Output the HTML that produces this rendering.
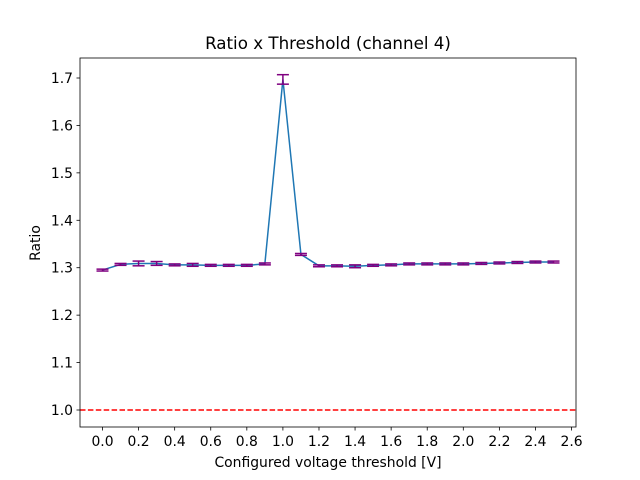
<!DOCTYPE html>
<html><head><meta charset="utf-8"><style>body{margin:0;background:#fff}svg{display:block;font-family:"DejaVu Sans","Liberation Sans",sans-serif}</style></head>
<body>
<svg id="c" width="640" height="480"></svg>
<script>
const xVals=[0,0.1,0.2,0.3,0.4,0.5,0.6,0.7,0.8,0.9,1.0,1.1,1.2,1.3,1.4,1.5,1.6,1.7,1.8,1.9,2.0,2.1,2.2,2.3,2.4,2.5];
const ratios=[1.295,1.307,1.309,1.309,1.306,1.306,1.305,1.305,1.305,1.308,1.697,1.328,1.304,1.304,1.303,1.305,1.306,1.308,1.308,1.308,1.308,1.309,1.310,1.311,1.312,1.312];
const errors=[0.002,0.002,0.005,0.004,0.002,0.003,0.002,0.002,0.002,0.002,0.010,0.002,0.002,0.002,0.003,0.002,0.002,0.002,0.002,0.002,0.002,0.002,0.002,0.002,0.002,0.002];
const xTicks=[0,0.2,0.4,0.6,0.8,1.0,1.2,1.4,1.6,1.8,2.0,2.2,2.4,2.6];
const yTicks=[1.0,1.1,1.2,1.3,1.4,1.5,1.6,1.7];
const refLine=1.0;
const svg=document.getElementById('c');const NS='http://www.w3.org/2000/svg';
const L=80,R=576,T=58,B=427;
const X=v=>102.5+v*180.4;
const Y=v=>410-(v-1.0)*(410-78)/0.7;
function mk(t,a,p){const e=document.createElementNS(NS,t);for(const k in a)e.setAttribute(k,a[k]);(p||svg).appendChild(e);return e;}
let e;
e=mk('line',{x1:L,x2:R,y1:Y(refLine),y2:Y(refLine),stroke:'#ff0000','stroke-width':1.5,'stroke-dasharray':'5.5,2.4'});


let d=xVals.map((x,i)=>(i?'L':'M')+X(x)+','+Y(ratios[i])).join('');
e=mk('path',{d:d,fill:'none',stroke:'#1f77b4','stroke-width':1.5});


xVals.forEach((x,i)=>{const g=mk('g',{stroke:'#800080','stroke-width':1.5});


const cx=X(x),y1=Y(ratios[i]-errors[i]),y2=Y(ratios[i]+errors[i]);
mk('line',{x1:cx,x2:cx,y1:y1,y2:y2},g);mk('line',{x1:cx-6,x2:cx+6,y1:y1,y2:y1},g);mk('line',{x1:cx-6,x2:cx+6,y1:y2,y2:y2},g);});
e=mk('rect',{x:L,y:T,width:R-L,height:B-T,fill:'none',stroke:'#000','stroke-width':0.8});


xTicks.forEach(t=>{mk('line',{x1:X(t),x2:X(t),y1:B,y2:B+3.5,stroke:'#000','stroke-width':0.8});
const tx=mk('text',{x:X(t),y:B+19,'text-anchor':'middle','font-size':13.9});tx.textContent=t.toFixed(1);

});
yTicks.forEach(t=>{mk('line',{x1:L-3.5,x2:L,y1:Y(t),y2:Y(t),stroke:'#000','stroke-width':0.8});
const tx=mk('text',{x:L-7,y:Y(t)+5,'text-anchor':'end','font-size':13.9});tx.textContent=t.toFixed(1);

});
e=mk('text',{x:328,y:467,'text-anchor':'middle','font-size':13.9});e.textContent='Configured voltage threshold [V]';


e=mk('text',{x:40,y:243,'text-anchor':'middle','font-size':13.9,transform:'rotate(-90 40 243)'});e.textContent='Ratio';


e=mk('text',{x:328,y:49,'text-anchor':'middle','font-size':16.7});e.textContent='Ratio x Threshold (channel 4)';


</script>
</body></html>
